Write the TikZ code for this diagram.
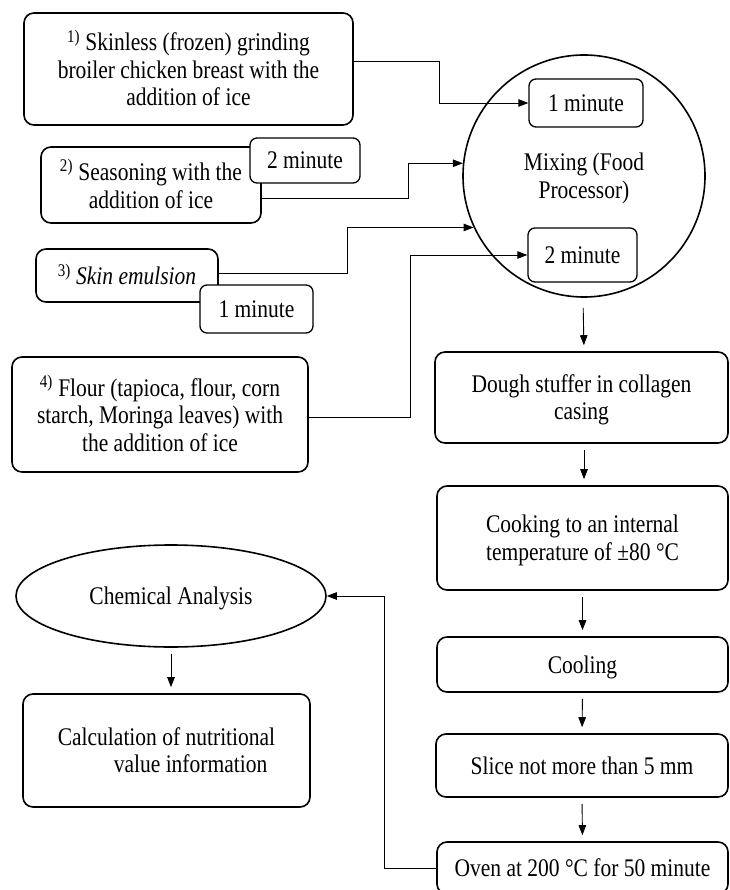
\documentclass[tikz,border=0pt]{standalone}
\usepackage{fontspec}
\usepackage{graphicx}
\setmainfont{Liberation Serif}
\usetikzlibrary{arrows.meta,shapes.geometric}
\newcommand\vtext[2][c]{\raisebox{-3pt}[\height][\depth]{\scalebox{1}[1.18]{\begin{tabular}{@{}#1@{}}#2\end{tabular}}}}
\begin{document}
\begin{tikzpicture}[x=1pt,y=-1pt,
 every node/.style={font=\fontsize{21.5}{23.3}\selectfont, align=center, inner sep=0pt},
 box/.style={draw, line width=1.6pt, rounded corners=10pt, fill=white},
 tbox/.style={draw, line width=1.3pt, rounded corners=7pt, fill=white},
 conn/.style={line width=0.9pt, -{Triangle[length=10pt,width=7.5pt]}},
 vconn/.style={conn, shorten <=6pt, shorten >=6pt}]
\useasboundingbox (0,0) rectangle (729,890);
\fill[white] (0,0) rectangle (729,890);
% left inputs
\node[box, minimum width=329pt, minimum height=112pt] (b1) at (188.5,69)
  {\vtext{\textsuperscript{1)} Skinless (frozen) grinding\\ broiler chicken breast with the\\ addition of ice}};
\node[box, minimum width=220pt, minimum height=76pt] (b2) at (151,185)
  {\vtext{\textsuperscript{2)} Seasoning with the\\ addition of ice}};
\node[tbox, minimum width=110pt, minimum height=45pt] (t2) at (305,160.5) {\vtext{2 minute}};
\node[box, minimum width=182pt, minimum height=53pt] (b3) at (127,275.5)
  {\vtext{\textsuperscript{3)} \textit{Skin emulsion}}};
\node[tbox, minimum width=113pt, minimum height=48pt] (t3) at (256.5,309) {\vtext{1 minute}};
\node[box, minimum width=296pt, minimum height=115pt] (b4) at (160,414.5)
  {\vtext{\textsuperscript{4)} Flour (tapioca, flour, corn\\ starch, Moringa leaves) with\\ the addition of ice}};
% mixing
\node[draw, circle, line width=1.6pt, minimum size=242pt] (mix) at (584,176) {\vtext{Mixing (Food\\ Processor)}};
\node[tbox, minimum width=114pt, minimum height=48pt] (m1) at (586,103) {\vtext{1 minute}};
\node[tbox, minimum width=109pt, minimum height=54pt] (m2) at (582.5,255) {\vtext{2 minute}};
% right column
\node[box, minimum width=293pt, minimum height=91pt] (dough) at (581.5,397.5) {\vtext{Dough stuffer in collagen\\ casing}};
\node[box, minimum width=291pt, minimum height=104pt] (cook) at (582.5,538) {\vtext{Cooking to an internal\\ temperature of ±80 °C}};
\node[box, minimum width=291pt, minimum height=55pt] (cool) at (582.5,664.5) {\vtext{Cooling}};
\node[box, minimum width=292pt, minimum height=63pt] (slice) at (582,765.5) {\vtext{Slice not more than 5 mm}};
\node[box, minimum width=291pt, minimum height=52pt] (oven) at (582.5,868) {\vtext{Oven at 200 °C for 50 minute}};
% analysis
\node[draw, ellipse, line width=1.6pt, minimum width=310pt, minimum height=102pt] (chem) at (171,596) {\vtext{Chemical Analysis}};
\node[box, minimum width=287pt, minimum height=113pt] (calc) at (166.5,750.5)
  {\vtext[l]{Calculation of nutritional\\ \hspace*{56pt}value information}};
% connectors
\coordinate (c2) at (mix.174.3);
\coordinate (c3) at (mix.205.45);
\draw[conn] ([yshift=8pt]b1.east) -| ([xshift=-89pt]m1.west) -- (m1.west);
\draw[conn] ([yshift=-13pt]b2.east) -| ([xshift=-54.6pt]c2) -- (c2);
\draw[conn] ([yshift=2.5pt]b3.east) -| ([xshift=-125.7pt]c3) -- (c3);
\draw[conn] ([yshift=-2.5pt]b4.east) -| ([xshift=-117pt]m2.west) -- (m2.west);
\draw[vconn, shorten <=10pt] ([xshift=-1pt]mix.south) -- (dough.north -| mix.south);
\draw[vconn] (dough.south -| mix.south) -- (cook.north -| mix.south);
\draw[vconn] (cook.south) -- (cool.north);
\draw[vconn] (cool.south) -- (slice.north);
\draw[vconn] (slice.south) -- (oven.north);
\draw[vconn] (chem.south) -- (calc.north -| chem.south);
\draw[conn] (oven.west) -| ([xshift=58pt]chem.east) -- (chem.east);
\end{tikzpicture}
\end{document}
